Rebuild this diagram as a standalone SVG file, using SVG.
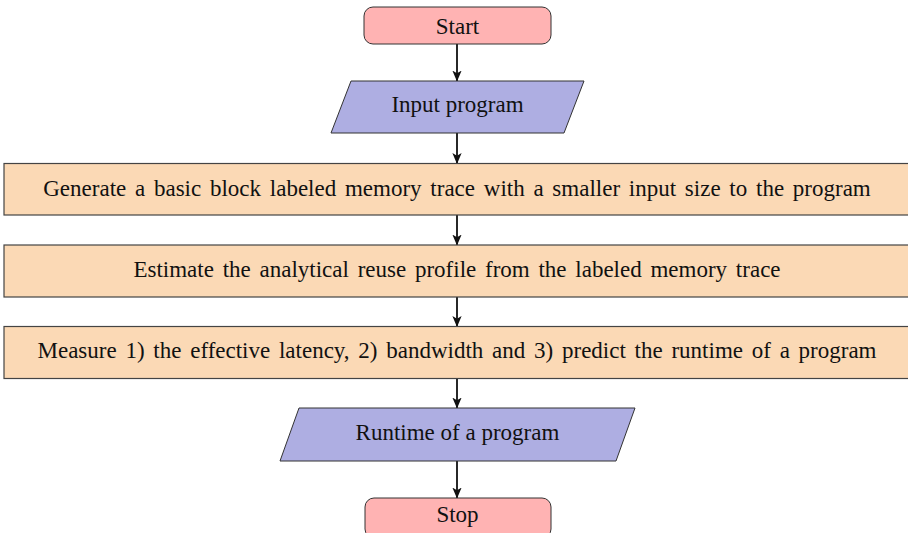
<svg xmlns="http://www.w3.org/2000/svg" width="908" height="533" viewBox="0 0 908 533">
<style>
text{font-family:"Liberation Serif","Times New Roman",serif;font-size:23px;fill:#111;text-anchor:middle}
.term{fill:#FFB3B3;stroke:#333;stroke-width:1}
.io{fill:#AEAEE2;stroke:#333;stroke-width:1}
.proc{fill:#FBD9B5;stroke:#444;stroke-width:1.2}
.wide{word-spacing:3px}
.conn{stroke:#111;stroke-width:1.8;fill:none;marker-end:url(#ah)}
</style>
<defs>
<marker id="ah" viewBox="0 0 10 10" refX="9.5" refY="5" markerWidth="11" markerHeight="11" markerUnits="userSpaceOnUse" orient="auto">
<path d="M0,0.8 L10,5 L0,9.2 L2.5,5 Z" fill="#111"/>
</marker>
</defs>
<rect width="908" height="533" fill="#fff"/>
<g id="connectors">
<line class="conn" x1="457" y1="44" x2="457" y2="81"/>
<line class="conn" x1="457" y1="133" x2="457" y2="163.5"/>
<line class="conn" x1="457" y1="215" x2="457" y2="245"/>
<line class="conn" x1="457" y1="297" x2="457" y2="326.5"/>
<line class="conn" x1="457" y1="379" x2="457" y2="408"/>
<line class="conn" x1="457" y1="461" x2="457" y2="498"/>
</g>
<g id="start">
<rect class="term" x="364" y="7" width="187" height="37" rx="9"/>
<text x="457.5" y="34">Start</text>
</g>
<g id="input">
<polygon class="io" points="351,81 584,81 564,133 331,133"/>
<text x="457.5" y="111.5">Input program</text>
</g>
<g id="generate">
<rect class="proc" x="4" y="163.5" width="906" height="51.5"/>
<text class="wide" x="457" y="195.5">Generate a basic block labeled memory trace with a smaller input size to the program</text>
</g>
<g id="estimate">
<rect class="proc" x="4" y="245" width="906" height="52"/>
<text class="wide" x="457" y="277">Estimate the analytical reuse profile from the labeled memory trace</text>
</g>
<g id="measure">
<rect class="proc" x="4" y="326.5" width="906" height="52"/>
<text class="wide" x="457" y="358">Measure 1) the effective latency, 2) bandwidth and 3) predict the runtime of a program</text>
</g>
<g id="runtime">
<polygon class="io" points="299,408 635,408 616,461 280,461"/>
<text x="457.5" y="440">Runtime of a program</text>
</g>
<g id="stop">
<rect class="term" x="365" y="498" width="186" height="40" rx="9"/>
<text x="457.5" y="521.5">Stop</text>
</g>
</svg>
